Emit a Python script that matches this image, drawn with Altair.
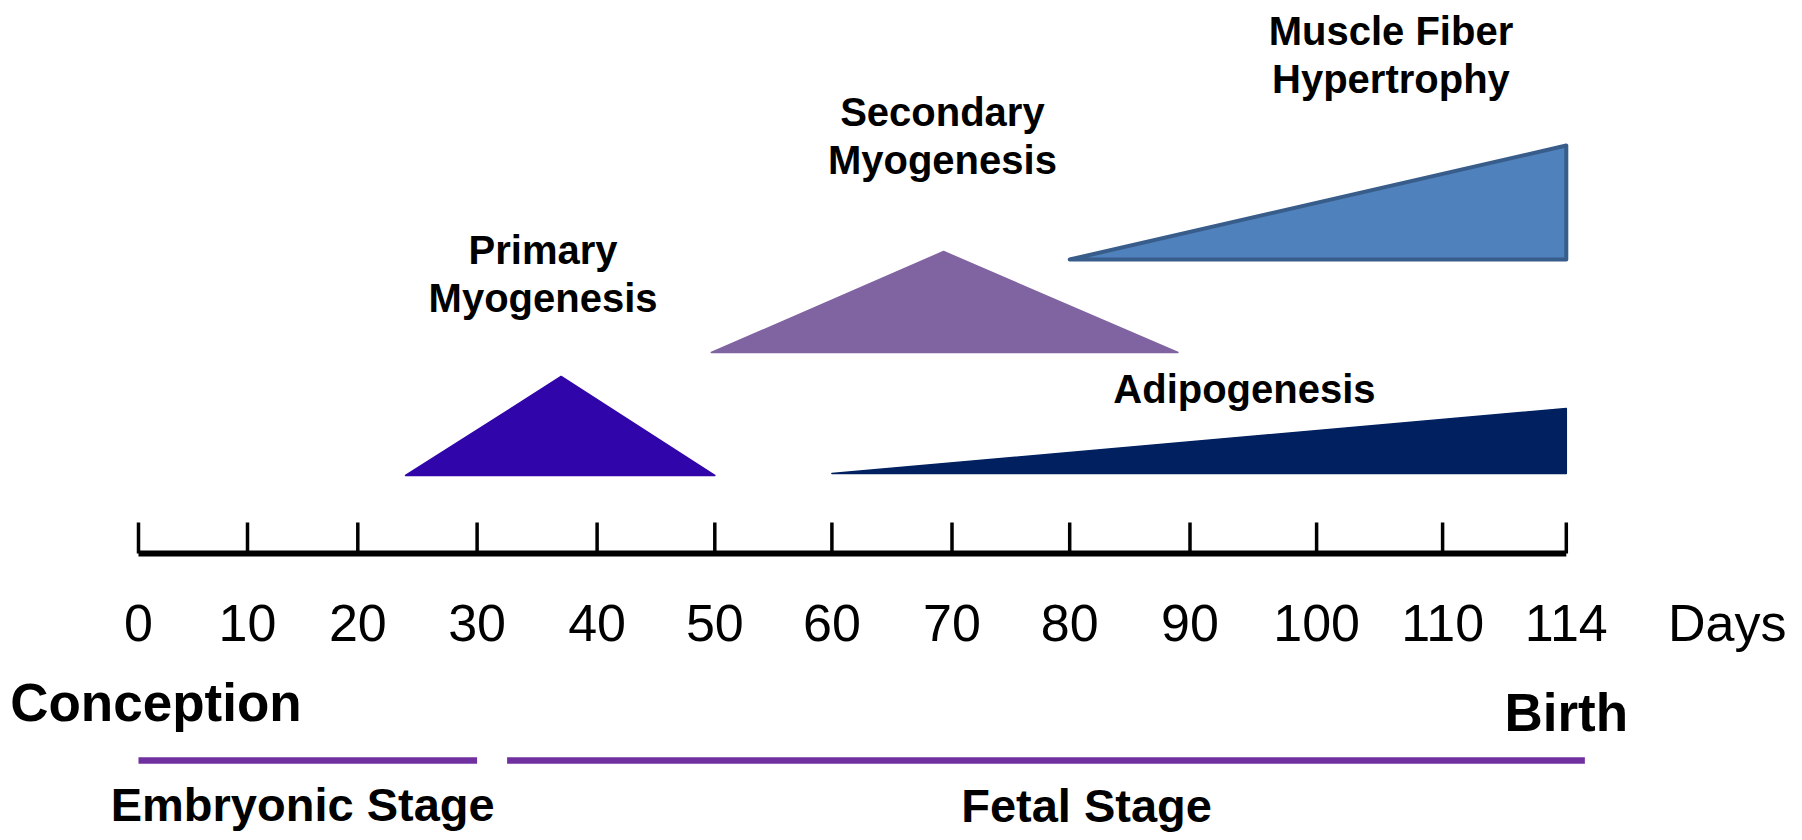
import altair as alt
import pandas as pd

# ---------------- data ----------------
# axis ticks: days after conception
tick_days = [0, 10, 20, 30, 40, 50, 60, 70, 80, 90, 100, 110, 114]
tick_labels = ["0", "10", "20", "30", "40", "50", "60", "70", "80", "90", "100", "110", "114"]

# developmental processes: outline vertices (day, level) and baseline level
process_names = ["Primary Myogenesis", "Secondary Myogenesis",
                 "Muscle Fiber Hypertrophy", "Adipogenesis"]
primary_days = [24, 37, 50]
primary_levels = [78, 177, 78]
secondary_days = [49.7, 69.3, 89]
secondary_levels = [201, 302, 201]
hypertrophy_days = [80, 114]
hypertrophy_levels = [294, 408]
adipo_days = [60, 114]
adipo_levels = [80, 145]
process_base = [78, 201, 294, 80]

# process labels
label_texts = ["Primary\nMyogenesis", "Secondary\nMyogenesis",
               "Muscle Fiber\nHypertrophy", "Adipogenesis"]
label_days = [35.5, 69.2, 105.9, 94.3]
label_levels = [290, 428, 509, 151]

# events
event_texts = ["Conception", "Birth"]
event_days = [1.6, 114]
event_levels = [-167, -177]

# stages
stage_names = ["Embryonic Stage", "Fetal Stage"]
stage_start = [0, 32.5]
stage_end = [30, 114.6]
stage_levels = [-207, -207]
stage_label_days = [15.0, 81.4]
stage_label_levels = [-267, -268]

# ---------------- layout / style ----------------
W, H = 1786, 824
FONT = "Liberation Sans"
# the drawn day axis is evenly spaced per tick (not proportional), so a piecewise scale
X_RANGE = [130.5, 239.5, 349.8, 469.1, 589.1, 706.8, 823.9, 944.0,
           1061.7, 1182.0, 1308.6, 1434.6, 1558.3]
X_SCALE = alt.Scale(domain=tick_days, range=X_RANGE, zero=False, nice=False, clamp=False)
Y_SCALE = alt.Scale(domain=[-278.5, 545.5], zero=False, nice=False)
TICK_LEN = 31
TICK_LABEL_LEVEL = -87

COLORS = {
    "Primary Myogenesis": ("#3005AA", "#3005AA", 1.5),
    "Secondary Myogenesis": ("#8064A2", "#8064A2", 1.5),
    "Muscle Fiber Hypertrophy": ("#4F81BD", "#385D8A", 4),
    "Adipogenesis": ("#002060", "#002060", 1.5),
}

# ---------------- tables ----------------
rows = []
for name, days, levels, base in zip(
        process_names,
        [primary_days, secondary_days, hypertrophy_days, adipo_days],
        [primary_levels, secondary_levels, hypertrophy_levels, adipo_levels],
        process_base):
    for d, l in zip(days, levels):
        rows.append({"process": name, "day": d, "level": l, "base": base})
shapes = pd.DataFrame(rows)

ticks = pd.DataFrame({"day": tick_days, "label": tick_labels,
                      "y0": 0, "y1": TICK_LEN, "ly": TICK_LABEL_LEVEL})
axis_line = pd.DataFrame({"x0": [tick_days[0]], "x1": [tick_days[-1]], "y": [0]})
labels = pd.DataFrame({"text": label_texts, "day": label_days, "level": label_levels})
events = pd.DataFrame({"text": event_texts, "day": event_days, "level": event_levels})
stages = pd.DataFrame({"name": stage_names, "x0": stage_start, "x1": stage_end,
                       "y": stage_levels, "lx": stage_label_days, "ly": stage_label_levels})
days_title = pd.DataFrame({"text": ["Days"], "day": [tick_days[-1]], "level": [TICK_LABEL_LEVEL]})

# ---------------- layers ----------------
layers = []
for name in process_names:
    fill, stroke, sw = COLORS[name]
    layers.append(
        alt.Chart(shapes).transform_filter(alt.datum.process == name)
        .mark_area(color=fill, fill=fill, stroke=stroke, strokeWidth=sw,
                   strokeJoin="round", opacity=1, fillOpacity=1)
        .encode(x=alt.X("day:Q", scale=X_SCALE, axis=None),
                y=alt.Y("level:Q", scale=Y_SCALE, axis=None),
                y2="base:Q")
    )

axis_rule = alt.Chart(axis_line).mark_rule(color="black", strokeWidth=6, strokeCap="butt").encode(
    x=alt.X("x0:Q", scale=X_SCALE, axis=None), x2="x1:Q",
    y=alt.Y("y:Q", scale=Y_SCALE, axis=None))

tick_rules = alt.Chart(ticks).mark_rule(color="black", strokeWidth=3.5, strokeCap="butt").encode(
    x=alt.X("day:Q", scale=X_SCALE, axis=None),
    y=alt.Y("y0:Q", scale=Y_SCALE, axis=None), y2="y1:Q")

tick_text = alt.Chart(ticks).mark_text(font=FONT, fontSize=52, color="black",
                                       align="center", baseline="alphabetic").encode(
    x=alt.X("day:Q", scale=X_SCALE, axis=None),
    y=alt.Y("ly:Q", scale=Y_SCALE, axis=None), text="label:N")

days_text = alt.Chart(days_title).mark_text(font=FONT, fontSize=52, color="black",
                                            align="center", baseline="alphabetic", dx=161).encode(
    x=alt.X("day:Q", scale=X_SCALE, axis=None),
    y=alt.Y("level:Q", scale=Y_SCALE, axis=None), text="text:N")

label_text = alt.Chart(labels).mark_text(font=FONT, fontSize=40, fontWeight="bold", color="black",
                                         align="center", baseline="alphabetic",
                                         lineBreak="\n", lineHeight=48).encode(
    x=alt.X("day:Q", scale=X_SCALE, axis=None),
    y=alt.Y("level:Q", scale=Y_SCALE, axis=None), text="text:N")

event_text = alt.Chart(events).mark_text(font=FONT, fontSize=53, fontWeight="bold", color="black",
                                         align="center", baseline="alphabetic").encode(
    x=alt.X("day:Q", scale=X_SCALE, axis=None),
    y=alt.Y("level:Q", scale=Y_SCALE, axis=None), text="text:N")

stage_rules = alt.Chart(stages).mark_rule(color="#7030A0", strokeWidth=6.5, strokeCap="butt").encode(
    x=alt.X("x0:Q", scale=X_SCALE, axis=None), x2="x1:Q",
    y=alt.Y("y:Q", scale=Y_SCALE, axis=None))

stage_text = alt.Chart(stages).mark_text(font=FONT, fontSize=47, fontWeight="bold", color="black",
                                         align="center", baseline="alphabetic").encode(
    x=alt.X("lx:Q", scale=X_SCALE, axis=None),
    y=alt.Y("ly:Q", scale=Y_SCALE, axis=None), text="name:N")

chart = alt.layer(*layers, axis_rule, tick_rules, tick_text, days_text, label_text,
                  event_text, stage_rules, stage_text).properties(
    width=W, height=H, padding=0,
    autosize=alt.AutoSizeParams(type="none"),
    background="white",
).configure_view(stroke=None)

chart.save("out.html", embed_options={"renderer": "svg", "actions": False})
